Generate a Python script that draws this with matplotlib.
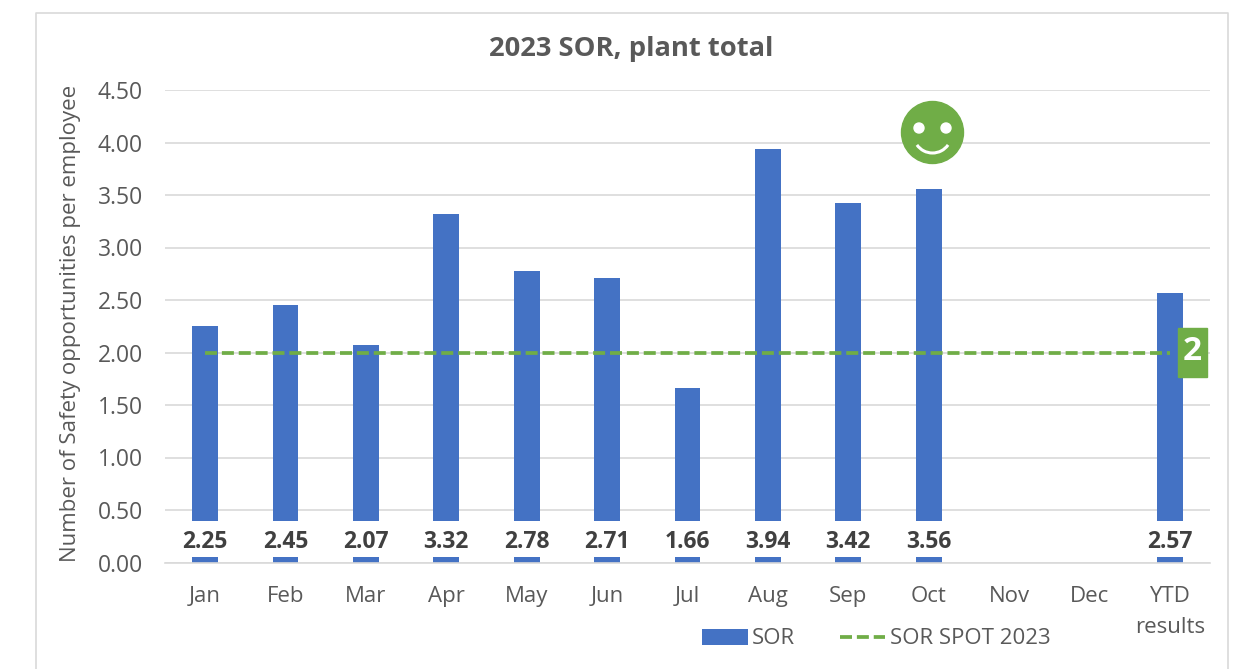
from __future__ import annotations

import matplotlib.pyplot as plt
from matplotlib.lines import Line2D
from matplotlib.patches import Arc, Circle, Patch, Rectangle

plt.rcParams["font.family"] = ["Open Sans", "DejaVu Sans"]

W, H = 1246, 669

categories = ["Jan", "Feb", "Mar", "Apr", "May", "Jun", "Jul", "Aug", "Sep", "Oct", "Nov", "Dec", "YTD\nresults"]
sor = [2.25, 2.45, 2.07, 3.32, 2.78, 2.71, 1.66, 3.94, 3.42, 3.56, None, None, 2.57]
target = [2.00] * 13
yticks = [0.0, 0.5, 1.0, 1.5, 2.0, 2.5, 3.0, 3.5, 4.0, 4.5]

BLUE = "#4472c4"
GREEN = "#70ad47"
GREY = "#595959"
DASH = (0, (3.2, 1.3))

fig = plt.figure(figsize=(W / 100, H / 100), dpi=100, facecolor="white")

# overlay in pixel coords for the chart frame and the pasted-on shapes
over = fig.add_axes([0, 0, 1, 1], zorder=3)
over.set_xlim(0, W)
over.set_ylim(H, 0)
over.axis("off")
over.patch.set_alpha(0)

ax = fig.add_axes([165 / W, (H - 562.5) / H, 1045 / W, 472.5 / H], zorder=2)
ax.patch.set_alpha(0)

xs = list(range(len(categories)))
bars = [0 if v is None else v for v in sor]
ax.bar(xs, bars, width=0.32, color=BLUE, zorder=2)
ax.plot(xs, target, color=GREEN, linestyle=DASH, linewidth=2.7, zorder=3)

# white label backgrounds cut through the bars, leaving a stub at the base
ax.bar(xs, 0.34, bottom=0.055, width=0.36, color="white", zorder=3.5)
for x, v in zip(xs, sor):
    if v is None:
        continue
    ax.text(x, 0.2, f"{v:.2f}", ha="center", va="center", fontsize=16.5, fontweight="bold", color="#404040", zorder=4)

ax.set_xlim(-0.5, 12.5)
ax.set_ylim(0, 4.5)
ax.set_yticks(yticks, [f"{t:.2f}" for t in yticks])
ax.set_xticks(xs, categories, linespacing=1.6)
ax.tick_params(axis="both", length=0, labelsize=16, labelcolor=GREY)
ax.tick_params(axis="y", labelsize=16.5, pad=16)
ax.tick_params(axis="x", pad=17)
ax.yaxis.grid(True, color="#d9d9d9", linewidth=1.2)
ax.set_axisbelow(True)
for side in ["top", "right", "left"]:
    ax.spines[side].set_visible(False)
ax.spines["bottom"].set_color("#d9d9d9")
ax.spines["bottom"].set_linewidth(1.2)

fig.text(631 / W, 1 - 49 / H, "2023 SOR, plant total", ha="center", va="center", fontsize=19.7, fontweight="bold", color=GREY)
fig.text(71 / W, 1 - 323 / H, "Number of Safety opportunities per employee", rotation=90, ha="center", va="center",
         fontsize=16, color=GREY)

handles = [Patch(facecolor=BLUE), Line2D([0], [0], color=GREEN, linestyle=DASH, linewidth=2.7)]
fig.legend(handles, ["SOR", "SOR SPOT 2023"], ncols=2, frameon=False, fontsize=16, labelcolor=GREY,
           loc="center left", bbox_to_anchor=(682 / W, 1 - 639 / H), handlelength=2.05, handleheight=0.7,
           handletextpad=0.2, columnspacing=2.0)

# chart frame, open at the bottom
over.plot([36, 36, 1228, 1228], [H, 13, 13, H], color="#d9d9d9", linewidth=1.2)

# smiley above Oct
over.add_patch(Circle((932.5, 132.5), 31, color=GREEN))
over.add_patch(Circle((919, 128), 5, color="white"))
over.add_patch(Circle((946, 128), 5, color="white"))
over.add_patch(Arc((932.5, 134), 38, 38, theta1=35, theta2=145, color="white", linewidth=2.2))

# target badge at the end of the line
over.add_patch(Rectangle((1178, 328), 29, 49, color=GREEN))
over.text(1192.5, 352, "2", ha="center", va="center", fontsize=24, fontweight="bold", color="white")

fig.savefig("out.png", dpi=100)
